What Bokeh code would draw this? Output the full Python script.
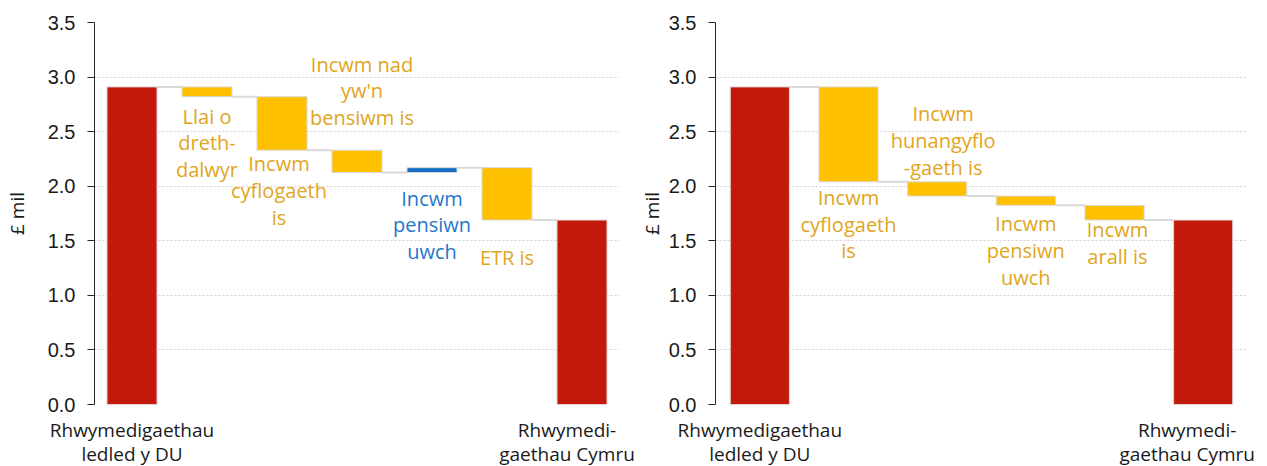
from bokeh.plotting import figure
from bokeh.layouts import row
from bokeh.models import Range1d, FixedTicker, NumeralTickFormatter, CustomJSTickFormatter
from bokeh.core.properties import value
from bokeh.embed import file_html
from bokeh.resources import INLINE

# ---------------- data ----------------
left_categories = ["Rhwymedigaethau\nledled y DU", "Llai o\ndreth-\ndalwyr",
                   "Incwm\ncyflogaeth\nis", "Incwm nad\nyw'n\nbensiwm is",
                   "Incwm\npensiwn\nuwch", "ETR is", "Rhwymedi-\ngaethau Cymru"]
left_start_total = 2.91
left_changes = [-0.09, -0.49, -0.205, 0.045, -0.48]
left_end_total = 1.69

right_categories = ["Rhwymedigaethau\nledled y DU", "Incwm\ncyflogaeth\nis",
                    "Incwm\nhunangyflo\n-gaeth is", "Incwm\npensiwn\nuwch",
                    "Incwm\narall is", "Rhwymedi-\ngaethau Cymru"]
right_start_total = 2.91
right_changes = [-0.87, -0.13, -0.085, -0.135]
right_end_total = 1.69

y_ticks = [0.0, 0.5, 1.0, 1.5, 2.0, 2.5, 3.0, 3.5]
y_label = "£ mil"

# ---------------- style ----------------
RED = "#C3190A"
YELLOW = "#FFC000"
BLUE = "#1570C4"
GOLD_TEXT = "#DFA520"
BLUE_TEXT = "#1F78C8"
EDGE = "#D9D9D9"
BAR_W = 0.667

# label placement per change bar: (side, pixel gap, x pixel shift)
left_place = [("below", 6, 0), ("below", 0, -3), ("above", 19, 5), ("below", 12, 0), ("below", 24, 0)]
right_place = [("below", 2, 0), ("above", 1, 6), ("below", 5, 0), ("below", -4, 3)]


def make_chart(categories, start_total, changes, end_total, placements,
               last_shift, frame_w, border_l, border_r, label_standoff):
    n = len(categories)
    levels = [start_total]
    for c in changes:
        levels.append(levels[-1] + c)

    xs, bottoms, tops, colors = [0], [0], [start_total], [RED]
    for i, c in enumerate(changes):
        xs.append(i + 1)
        bottoms.append(min(levels[i], levels[i + 1]))
        tops.append(max(levels[i], levels[i + 1]))
        colors.append(YELLOW if c < 0 else BLUE)
    xs.append(n - 1)
    bottoms.append(0)
    tops.append(end_total)
    colors.append(RED)

    p = figure(frame_width=frame_w, frame_height=382,
               x_range=Range1d(-0.5, n - 0.5), y_range=Range1d(0, 3.5),
               output_backend="svg", toolbar_location=None,
               min_border_left=border_l, min_border_right=border_r,
               min_border_top=22, min_border_bottom=54)
    p.outline_line_color = None
    p.background_fill_color = "white"
    p.border_fill_color = "white"

    # connectors
    cx0 = [x + BAR_W / 2 for x in xs[:-1]]
    cx1 = [x + 1 - BAR_W / 2 for x in xs[:-1]]
    cy = levels[:]
    p.segment(x0=cx0, y0=cy, x1=cx1, y1=cy, line_color=EDGE, line_width=2)

    p.vbar(x=xs, bottom=bottoms, top=tops, width=BAR_W, fill_color=colors,
           line_color=EDGE, line_width=1)

    # labels
    for side in ("below", "above"):
        lx, ly, lt, lc, yo, xo = [], [], [], [], [], []
        for i, c in enumerate(changes):
            s, gap, dx = placements[i]
            if s != side:
                continue
            lx.append(i + 1)
            if side == "below":
                ly.append(min(levels[i], levels[i + 1]))
                yo.append(gap)
            else:
                ly.append(max(levels[i], levels[i + 1]))
                yo.append(-gap)
            xo.append(dx)
            lt.append(categories[i + 1])
            lc.append(GOLD_TEXT if c < 0 else BLUE_TEXT)
        if lx:
            p.text(x=lx, y=ly, text=lt, text_color=lc, x_offset=xo, y_offset=yo,
                   text_align="center",
                   text_baseline="top" if side == "below" else "bottom",
                   text_font=value("Open Sans"), text_font_size="20px",
                   text_line_height=0.99)

    # y axis
    ya = p.yaxis[0]
    ya.ticker = FixedTicker(ticks=y_ticks)
    ya.formatter = NumeralTickFormatter(format="0.0")
    ya.major_label_text_font = "Liberation Sans"
    ya.major_label_text_font_size = "20px"
    ya.major_label_text_color = "#1a1a1a"
    ya.major_label_standoff = 12
    ya.axis_line_color = "#262626"
    ya.major_tick_line_color = "#262626"
    ya.major_tick_out = 7
    ya.major_tick_in = 0
    ya.minor_tick_line_color = None
    ya.axis_label = y_label
    ya.axis_label_text_font = "Open Sans"
    ya.axis_label_text_font_size = "19px"
    ya.axis_label_text_font_style = "normal"
    ya.axis_label_text_color = "#1a1a1a"
    ya.axis_label_standoff = label_standoff

    p.ygrid.ticker = FixedTicker(ticks=y_ticks)
    p.ygrid.grid_line_color = "#D0D0D0"
    p.ygrid.grid_line_dash = "2 2"
    p.xgrid.grid_line_color = None

    # x axis: only first and last categories named
    xa = p.xaxis[0]
    first_pos, last_pos = 0, n - 1 + last_shift
    xa.ticker = FixedTicker(ticks=[first_pos, last_pos])
    xa.formatter = CustomJSTickFormatter(
        args=dict(a=categories[0], b=categories[-1]),
        code="return tick < 1 ? a : b;")
    xa.axis_line_color = None
    xa.major_tick_line_color = None
    xa.minor_tick_line_color = None
    xa.major_tick_out = 0
    xa.major_tick_in = 0
    xa.major_label_standoff = 12
    xa.major_label_text_font = "Open Sans"
    xa.major_label_text_font_size = "19px"
    xa.major_label_text_color = "#1a1a1a"
    xa.major_label_text_line_height = 0.95
    return p


p1 = make_chart(left_categories, left_start_total, left_changes, left_end_total,
                left_place, -0.2, 525, 87, 16, 15)
p2 = make_chart(right_categories, right_start_total, right_changes, right_end_total,
                right_place, -0.18, 532, 79, 12, 1)

layout = row(p1, p2)
open("out.html", "w").write(file_html(layout, INLINE))
